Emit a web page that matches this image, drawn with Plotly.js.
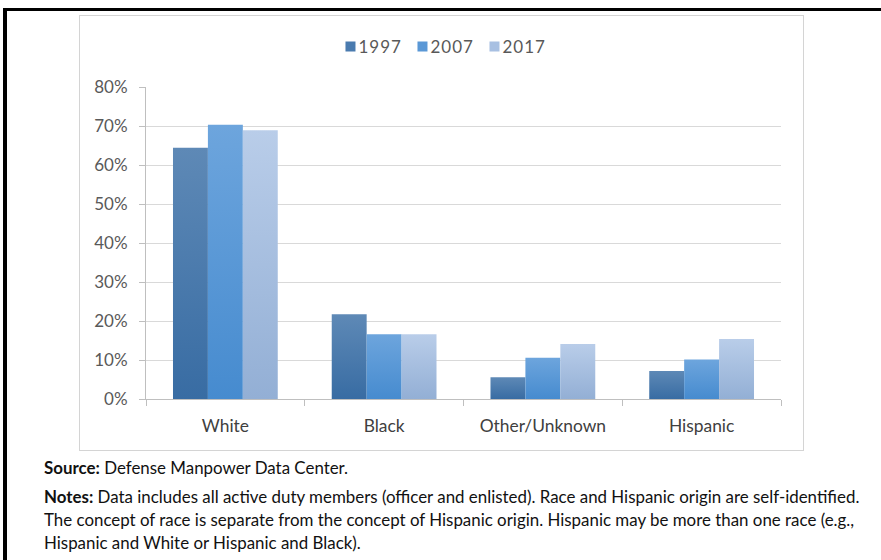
<!DOCTYPE html>
<html>
<head>
<meta charset="utf-8">
<script src="https://cdn.plot.ly/plotly-3.0.1.min.js"></script>
<style>
  html, body { margin: 0; padding: 0; background: #fff; }
  #wrap { position: relative; width: 881px; height: 560px; overflow: hidden; background: #fff; }
  .abs { position: absolute; }
  .note { position: absolute; left: 44px; font-family: Lato, "Open Sans", sans-serif; font-size: 16.9px; color: #111; white-space: nowrap; line-height: 18px; }
  .note b { font-weight: 700; }
</style>
</head>
<body>
<div id="wrap">
  <div class="abs" style="left:3px;top:8px;width:878px;height:3px;background:#000"></div>
  <div class="abs" style="left:3px;top:8px;width:4px;height:552px;background:#000"></div>
  <div class="abs" style="left:79px;top:15px;width:725px;height:436px;border:1px solid #d4d4d4;box-sizing:border-box"></div>
  <div id="plot" class="abs" style="left:0;top:0;width:881px;height:560px"></div>
  <div class="note" style="top:459px"><b>Source:</b> Defense Manpower Data Center.</div>
  <div class="note" style="top:488px"><b>Notes:</b> Data includes all active duty members (officer and enlisted). Race and Hispanic origin are self-identified.</div>
  <div class="note" style="top:511px">The concept of race is separate from the concept of Hispanic origin. Hispanic may be more than one race (e.g.,</div>
  <div class="note" style="top:534px">Hispanic and White or Hispanic and Black).</div>
</div>
<script>
const categories = ['White', 'Black', 'Other/Unknown', 'Hispanic'];
const seriesNames = ['1997', '2007', '2017'];
const y1997 = [0.644, 0.217, 0.056, 0.072];
const y2007 = [0.703, 0.166, 0.106, 0.101];
const y2017 = [0.689, 0.166, 0.141, 0.154];
const yTickVals = [0, 0.1, 0.2, 0.3, 0.4, 0.5, 0.6, 0.7, 0.8];

const solid = ['#4a7baf', '#5a98d6', '#a8c0e2'];
const grads = [['#5e89b6', '#386ca3'], ['#6da5dd', '#468bcf'], ['#b9cde9', '#93afd5']];

const traces = [y1997, y2007, y2017].map((vals, i) => ({
  type: 'bar',
  name: seriesNames[i],
  x: categories,
  y: vals,
  marker: { color: solid[i], line: { width: 0 } },
  hoverinfo: 'none'
}));

const font = 'Lato, "Open Sans", sans-serif';
const layout = {
  width: 881, height: 560,
  margin: { l: 146, r: 100, t: 87, b: 161, pad: 0 },
  paper_bgcolor: 'rgba(0,0,0,0)',
  plot_bgcolor: 'rgba(0,0,0,0)',
  barmode: 'group',
  bargap: 0.34,
  bargroupgap: 0,
  font: { family: font, color: '#595959' },
  showlegend: true,
  legend: {
    orientation: 'h', x: 0.4606, xanchor: 'center', y: 1.128, yanchor: 'middle',
    font: { size: 17, color: '#595959', family: font },
    itemwidth: 30, entrywidth: 27, entrywidthmode: 'pixels',
    bgcolor: 'rgba(0,0,0,0)', traceorder: 'normal'
  },
  xaxis: {
    type: 'category',
    showline: true, linecolor: '#bfbfbf', linewidth: 1,
    ticks: 'outside', tickson: 'boundaries', ticklen: 6, tickcolor: '#bfbfbf', tickwidth: 1,
    showgrid: false, zeroline: false,
    tickfont: { size: 17.4, color: '#404040', family: font },
    ticklabelstandoff: 11
  },
  yaxis: {
    range: [0, 0.8], tickvals: yTickVals, tickformat: '.0%',
    showline: true, linecolor: '#bfbfbf', linewidth: 1,
    ticks: 'outside', ticklen: 6, tickcolor: '#bfbfbf', tickwidth: 1,
    showgrid: true, gridcolor: '#d9d9d9', gridwidth: 1,
    zeroline: false,
    tickfont: { size: 17, color: '#595959', family: font },
    ticklabelstandoff: 8
  }
};

Plotly.newPlot('plot', traces, layout, { staticPlot: true, displayModeBar: false }).then(gd => {
  const svg = gd.querySelector('svg.main-svg');
  const ns = 'http://www.w3.org/2000/svg';
  let defs = svg.querySelector('defs');
  if (!defs) { defs = document.createElementNS(ns, 'defs'); svg.insertBefore(defs, svg.firstChild); }
  grads.forEach((g, i) => {
    const lg = document.createElementNS(ns, 'linearGradient');
    lg.setAttribute('id', 'bargrad' + i);
    lg.setAttribute('x1', '0'); lg.setAttribute('y1', '0');
    lg.setAttribute('x2', '0'); lg.setAttribute('y2', '1');
    [[0, g[0]], [1, g[1]]].forEach(([o, c]) => {
      const s = document.createElementNS(ns, 'stop');
      s.setAttribute('offset', o); s.setAttribute('stop-color', c);
      lg.appendChild(s);
    });
    defs.appendChild(lg);
  });
  gd.querySelectorAll('.barlayer .trace').forEach((tr, i) => {
    tr.querySelectorAll('.point path').forEach(p => { p.style.fill = 'url(#bargrad' + i + ')'; });
  });
  // tighten legend: smaller swatch, text closer to swatch
  gd.querySelectorAll('.legend .traces').forEach(t => {
    t.querySelectorAll('.legendpoints path').forEach(p => p.setAttribute('d', 'M5,5H-5V-5H5Z'));
    const txt = t.querySelector('.legendtext');
    if (txt) { txt.setAttribute('x', '28'); txt.style.letterSpacing = '1px'; }
  });
});
</script>
</body>
</html>
